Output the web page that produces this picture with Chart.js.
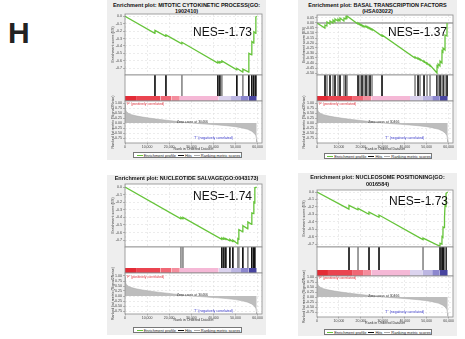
<!DOCTYPE html>
<html><head><meta charset="utf-8">
<script src="https://cdn.jsdelivr.net/npm/chart.js"></script>
<style>
html,body{margin:0;padding:0;background:#fff}
body{position:relative;width:465px;height:339px;overflow:hidden;font-family:"Liberation Sans",Arial,sans-serif}
.panel{position:absolute;background:#eeeeee}
.title{position:absolute;text-align:center;font-weight:bold;font-size:5.5px;line-height:6.5px;color:#111;white-space:nowrap}
.nes{position:absolute;font-size:12px;line-height:12px;color:#111;white-space:nowrap}
.leg{position:absolute;background:#fff;border:0.6px solid #777;font-size:4px;line-height:5px;text-align:center;white-space:nowrap;color:#222;box-sizing:border-box;height:6px}
.leg i{display:inline-block;width:6px;height:0;border-top:0.8px solid;vertical-align:middle;margin:0 1px 0 2px}
.H{position:absolute;left:8px;top:18px;font-size:30px;line-height:30px;font-weight:bold;color:#222}
canvas{position:absolute}
</style></head><body>
<div class="H">H</div>
<script>
// ================= DATA =================
const xTickValues = [0, 10000, 20000, 30000, 40000, 50000, 60000];
const rankTickValues = [1, 0.75, 0.5, 0.25, 0, -0.25, -0.5, -0.75];
const esTicksA = [0, -0.1, -0.2, -0.3, -0.4, -0.5, -0.6, -0.7];
const esTicksB = [0.05, 0, -0.05, -0.1, -0.15, -0.2, -0.25, -0.3, -0.35, -0.4, -0.45, -0.5];

const titles = [
  ["Enrichment plot: MITOTIC CYTOKINETIC PROCESS(GO:", "1902410)"],
  ["Enrichment plot: BASAL TRANSCRIPTION FACTORS", "(HSA03022)"],
  ["Enrichment plot: NUCLEOTIDE SALVAGE(GO:0043173)"],
  ["Enrichment plot: NUCLEOSOME POSITIONING(GO:", "0016584)"]
];
const nesLabels = ["NES=-1.73", "NES=-1.37", "NES=-1.74", "NES=-1.73"];
const legendLabels = ["Enrichment profile", "Hits", "Ranking metric scores"];
const posLabel = "'F' (positively correlated)";
const negLabel = "'T' (negatively correlated)";
const zeroCrossRank = 30466;
const zeroCrossLabel = "Zero cross at 30466";

// ranked list (shared by all four plots)
const colorBarEdges = [0, 5000, 16000, 21000, 24800, 42400, 48000, 52500, 56000, 59600];
const metric = [[0,0.98],[150,0.72],[600,0.58],[1500,0.49],[3000,0.42],[5000,0.36],[8000,0.30],[11000,0.25],
  [15000,0.19],[19000,0.14],[23000,0.09],[27000,0.04],[30466,0.0],[34000,-0.03],[38000,-0.06],[42000,-0.09],
  [46000,-0.13],[50000,-0.18],[53000,-0.24],[55500,-0.31],[57300,-0.40],[58500,-0.50],[59200,-0.62],[59500,-0.80],[59600,-0.95]];

// Panel 1: MITOTIC CYTOKINETIC PROCESS
const es1 = [[0,0.00],[13500,-0.23],[13560,-0.19],[18500,-0.27],[18530,-0.25],[25700,-0.37],[25760,-0.35],
  [42000,-0.63],[42040,-0.61],[42900,-0.63],[42940,-0.61],[43800,-0.62],[43840,-0.60],[50600,-0.72],[50620,-0.70],
  [53300,-0.75],[53340,-0.71],[56000,-0.75],[56050,-0.50],[57350,-0.52],[57400,-0.34],[58280,-0.36],[58310,-0.21],
  [59200,-0.23],[59220,-0.01],[59600,0.00]];
const hitsDark1 = [13560,18530,42040,42940,50620,56050,57400,58310,59220];
const hitsGray1 = [25760,43840,53340];

// Panel 2: BASAL TRANSCRIPTION FACTORS
const es2 = [[0,0.00],[3600,-0.05],[3650,-0.02],[4500,-0.03],[4560,0.01],[5900,-0.01],[5930,0.02],[7250,0.00],[7300,0.03],
  [8150,0.01],[8210,0.04],[9550,0.02],[9580,0.04],[10450,0.02],[10490,0.05],[12250,0.02],[12310,0.05],[13200,0.04],
  [13220,0.06],[13650,0.05],[13680,0.07],[18650,-0.01],[18700,0.00],[19600,-0.02],[19610,-0.01],[20500,-0.03],
  [20520,-0.02],[21400,-0.04],[21430,-0.03],[22300,-0.04],[22340,-0.03],[23200,-0.05],[23260,-0.04],[24150,-0.06],
  [24170,-0.05],[25050,-0.07],[25080,-0.06],[29600,-0.13],[29640,-0.12],[44650,-0.35],[44690,-0.34],[46000,-0.36],
  [46060,-0.35],[46950,-0.37],[46970,-0.36],[48750,-0.39],[48790,-0.38],[50100,-0.41],[50160,-0.40],[51500,-0.43],
  [51530,-0.42],[54700,-0.50],[54720,-0.43],[55150,-0.44],[55180,-0.41],[56050,-0.43],[56090,-0.38],[56950,-0.40],
  [57000,-0.28],[57400,-0.29],[57460,-0.25],[58350,-0.27],[58370,-0.12],[59250,-0.13],[59280,0.00],[59600,0.00]];
const hitsDark2 = [3650,5930,8210,10490,13220,18700,20520,22340,24170,29640,46060,48790,54720,56090,57460,59280];
const hitsGray2 = [4560,7300,9580,12310,13680,19610,21430,23260,25080,44690,46970,50160,51530,55180,57000,58370];

// Panel 3: NUCLEOTIDE SALVAGE
const es3 = [[0,0.00],[25300,-0.42],[25310,-0.40],[26200,-0.42],[26220,-0.40],[43800,-0.69],[43840,-0.67],[44700,-0.69],
  [44750,-0.67],[45600,-0.69],[45650,-0.68],[47440,-0.71],[47460,-0.69],[48800,-0.72],[48820,-0.70],[51050,-0.75],
  [51080,-0.68],[51500,-0.69],[51530,-0.56],[53300,-0.59],[53340,-0.51],[55550,-0.55],[55600,-0.46],[57350,-0.49],
  [57400,-0.34],[58280,-0.35],[58310,-0.20],[58700,-0.21],[58760,-0.01],[59600,0.00]];
const hitsDark3 = [43840,44750,45650,47460,48820,53340,57400,58310,58760];
const hitsGray3 = [25310,26220,51080,51530,55600];

// Panel 4: NUCLEOSOME POSITIONING
const es4 = [[0,0.00],[14550,-0.23],[14590,-0.18],[18650,-0.24],[18700,-0.22],[23650,-0.30],[23710,-0.27],[28250,-0.34],
  [28270,-0.31],[48300,-0.64],[48340,-0.62],[56050,-0.73],[56090,-0.69],[56950,-0.70],[57000,-0.60],[57400,-0.61],
  [57460,-0.47],[57900,-0.48],[57910,-0.33],[58350,-0.34],[58370,-0.18],[58800,-0.19],[58820,-0.02],[59600,0.00]];
const hitsDark4 = [14590,23710,28270,56090,57000,57460,57910,58820];
const hitsGray4 = [18700,48340,58370];

// ================= STYLE / LAYOUT =================
const esColor = '#66c43a';
const barColors = ['#e32b36','#ea4450','#f06775','#f48d9d','#f5b8d6','#dbd3ee','#bcb6e2','#8c87ce','#47449f'];
const FONT = '"Liberation Sans", Arial, sans-serif';

const panels = [
  {es: es1, hd: hitsDark1, hg: hitsGray1, box:[107,0,266,160], L:125, R:262, esY:[14,75], hitY:[75,101], barH:5, rankY:[101,143],
   leg:[133,152,109], titleTop:1.8, nes:[193,26.4], esRange:[-0.79,0.03], esTicks: esTicksA, dec:1, rankRange:[-0.99,1.1], zeroLine:false},
  {es: es2, hd: hitsDark2, hg: hitsGray2, box:[298,0,457,160], L:317, R:453, esY:[15,75], hitY:[75,101], barH:5, rankY:[101,143],
   leg:[324,153,108], titleTop:1.8, nes:[388,26.4], esRange:[-0.52,0.08], esTicks: esTicksB, dec:2, rankRange:[-0.99,1.1], zeroLine:true},
  {es: es3, hd: hitsDark3, hg: hitsGray3, box:[107,175,266,335], L:125, R:262, esY:[184,247], hitY:[247,273], barH:5, rankY:[273,314],
   leg:[133,327,109], titleTop:175, nes:[193,190.4], esRange:[-0.79,0.04], esTicks: esTicksA, dec:1, rankRange:[-0.9,1.15], zeroLine:false},
  {es: es4, hd: hitsDark4, hg: hitsGray4, box:[298,173,457,336], L:317, R:453, esY:[190,247], hitY:[247,276], barH:6, rankY:[276,317],
   leg:[324,329,108], titleTop:174, nes:[389,195.4], esRange:[-0.74,0.027], esTicks: esTicksA, dec:1, rankRange:[-0.99,1.05], zeroLine:false}
];

Chart.defaults.font.family = FONT;
Chart.defaults.animation = false;
Chart.defaults.responsive = false;
Chart.defaults.plugins.legend.display = false;
Chart.defaults.plugins.tooltip.enabled = false;

const framePlugin = {
  id: 'frame',
  beforeDraw(chart) { const a = chart.chartArea, c = chart.ctx; c.save(); c.fillStyle = '#fff'; c.fillRect(a.left, a.top, a.width, a.height); c.restore(); },
  afterDraw(chart) { const a = chart.chartArea, c = chart.ctx; c.save(); c.strokeStyle = '#8a8a8a'; c.lineWidth = 0.8; c.strokeRect(a.left, a.top, a.width, a.height); c.restore(); }
};
const annotPlugin = {
  id: 'annot',
  afterDatasetsDraw(chart, args, opts) {
    if (!opts || !opts.items) return;
    const c = chart.ctx, xs = chart.scales.x, ys = chart.scales.y;
    c.save();
    opts.items.forEach(it => {
      c.font = (it.size || 3.5) + 'px ' + FONT;
      c.fillStyle = it.color; c.textAlign = it.align; c.textBaseline = 'middle';
      c.fillText(it.text, xs.getPixelForValue(it.x), ys.getPixelForValue(it.y));
    });
    c.restore();
  }
};
Chart.register(framePlugin, annotPlugin);

function mkCanvas(l, t, w, h) {
  const c = document.createElement('canvas');
  c.width = w; c.height = h;
  c.style.left = l + 'px'; c.style.top = t + 'px'; c.style.width = w + 'px'; c.style.height = h + 'px';
  document.body.appendChild(c);
  return c;
}
function el(cls, l, t, html, extra) {
  const d = document.createElement('div'); d.className = cls;
  d.style.left = l + 'px'; d.style.top = t + 'px';
  if (extra) Object.assign(d.style, extra);
  d.innerHTML = html; document.body.appendChild(d); return d;
}

function xScale(showTicks, h) {
  return {
    type: 'linear', min: 0, max: 62000, offset: false,
    afterBuildTicks: s => { s.ticks = xTickValues.map(v => ({value: v})); },
    grid: {display: true, color: '#e0e0e0', lineWidth: 0.6, drawTicks: showTicks, tickLength: 1.5, tickColor: '#888'},
    border: {display: false, dash: [2, 2]},
    ticks: {display: showTicks, font: {size: 3.5}, color: '#444', padding: 0.5, maxRotation: 0, autoSkip: false,
            callback: v => v.toLocaleString('en-US')},
    title: {display: showTicks, text: 'Rank in Ordered Dataset', font: {size: 3.6}, color: '#333', padding: 0},
    afterFit: s => { s.height = h; }
  };
}
function yScale(range, ticks, dec, title, W, showGrid) {
  return {
    type: 'linear', min: range[0], max: range[1],
    afterBuildTicks: s => { if (ticks) s.ticks = ticks.map(v => ({value: v})); },
    ticks: {display: !!ticks, font: {size: 3.6}, color: '#444', padding: 1, autoSkip: false, callback: v => v.toFixed(dec)},
    grid: {display: showGrid, color: '#e0e0e0', lineWidth: 0.6, tickLength: 2, tickColor: '#888'},
    border: {display: false, dash: [2, 2]},
    title: {display: !!title, text: title || '', font: {size: 3.6}, color: '#333', padding: 0},
    afterFit: s => { s.width = W; }
  };
}

panels.forEach((p, i) => {
  const [bl, bt, br, bb] = p.box;
  el('panel', bl, bt, '', {width: (br - bl) + 'px', height: (bb - bt) + 'px'});
  el('title', bl, p.titleTop, titles[i].join('<br>'), {width: (br - bl) + 'px'});

  const cl = bl + 4, W = p.L - cl, PR = 5, cw = p.R + PR - cl;

  // --- Enrichment score plot ---
  const esDatasets = [{
    type: 'line', data: p.es.map(([x, y]) => ({x, y})), borderColor: esColor, borderWidth: 1.3,
    pointRadius: 0, fill: false, tension: 0
  }];
  if (p.zeroLine) esDatasets.push({type: 'line', data: [{x: 0, y: 0}, {x: 62000, y: 0}], borderColor: '#a0a0a0', borderWidth: 1.4, pointRadius: 0});
  new Chart(mkCanvas(cl, p.esY[0] - 4, cw, p.esY[1] - p.esY[0] + 8), {
    type: 'line',
    data: {datasets: esDatasets},
    options: {
      layout: {padding: {top: 4, bottom: 4, left: 0, right: PR}},
      scales: {x: xScale(false, 0), y: yScale(p.esRange, p.esTicks, p.dec, 'Enrichment score (ES)', W, true)}
    }
  });

  // --- Hits + ranked-list colour bar ---
  const hitH = p.hitY[1] - p.hitY[0], frac = p.barH / hitH;
  const hitDatasets = [];
  for (let k = 0; k < colorBarEdges.length - 1; k++) {
    hitDatasets.push({type: 'line', data: [{x: colorBarEdges[k], y: frac}, {x: colorBarEdges[k + 1], y: frac}],
      fill: 'origin', backgroundColor: barColors[k], borderWidth: 0, pointRadius: 0});
  }
  hitDatasets.push({type: 'bar', data: p.hg.map(h => ({x: h, y: [frac, 1]})), backgroundColor: '#8a8a8a', barThickness: 1, grouped: false, borderWidth: 0});
  hitDatasets.push({type: 'bar', data: p.hd.map(h => ({x: h, y: [frac, 1]})), backgroundColor: '#111', barThickness: 1, grouped: false, borderWidth: 0});
  const hx = xScale(false, 0); hx.grid.display = false;
  new Chart(mkCanvas(cl, p.hitY[0] - 4, cw, hitH + 8), {
    type: 'line',
    data: {datasets: hitDatasets},
    options: {
      layout: {padding: {top: 4, bottom: 4, left: 0, right: PR}},
      scales: {x: hx, y: yScale([0, 1], null, 0, null, W, false)}
    }
  });

  // --- Ranked list metric ---
  const XH = 8, TOPPAD = 10;
  new Chart(mkCanvas(cl, p.rankY[0] - TOPPAD, cw, p.rankY[1] - p.rankY[0] + TOPPAD + XH), {
    type: 'line',
    data: {datasets: [{type: 'line', data: metric.map(([x, y]) => ({x, y})), fill: 'origin',
      backgroundColor: '#bdbdbd', borderColor: '#a9a9a9', borderWidth: 0.5, pointRadius: 0}]},
    options: {
      layout: {padding: {top: TOPPAD, bottom: 0, left: 0, right: PR}},
      scales: {x: xScale(true, XH), y: yScale(p.rankRange, rankTickValues, 2, 'Ranked list metric (Signal2Noise)', W, true)},
      plugins: {annot: {items: [
        {text: posLabel, x: 700, y: 0.93, color: '#e0303a', align: 'left'},
        {text: zeroCrossLabel, x: zeroCrossRank, y: 0.07, color: '#333', align: 'center'},
        {text: negLabel, x: 40000, y: -0.75, color: '#3a3acc', align: 'center'}
      ]}}
    }
  });

  // --- NES label & legend ---
  el('nes', p.nes[0], p.nes[1], nesLabels[i]);
  el('leg', p.leg[0], p.leg[1],
     '<i style="border-color:' + esColor + '"></i>' + legendLabels[0] +
     '<i style="border-color:#111"></i>' + legendLabels[1] +
     '<i style="border-color:#aaa"></i>' + legendLabels[2],
     {width: p.leg[2] + 'px'});
});
</script>
</body></html>
